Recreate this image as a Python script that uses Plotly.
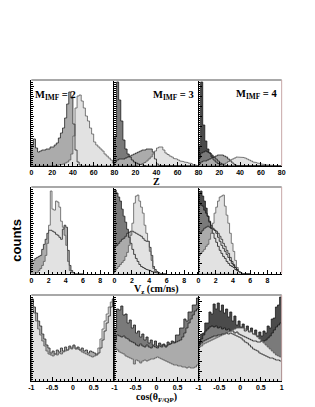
import numpy as np
import plotly.graph_objects as go

# ---------------- data ----------------
# Row 1: Z distributions, bins of width 2 from 0 to 80
z_edges = np.arange(0, 80.1, 2)
z_m2_medium = [21, 27, 18, 14, 15, 16, 16, 17, 17, 19, 19, 21, 23, 28, 33, 38, 48, 62, 74, 68,
               42, 16, 4, 1, 0, 0, 0, 0, 0, 0, 0, 0, 0, 0, 0, 0, 0, 0, 0, 0]
z_m2_light = [0, 0, 0, 0, 0, 0, 0, 0, 0, 0, 0, 0, 0.5, 1, 1.5, 2, 3, 4, 6, 12,
              30, 58, 70, 71, 65, 58, 50, 45, 38, 32, 24, 21, 19, 17, 15, 12, 10, 8, 6, 3]
z_m3_dark = [30, 84, 66, 45, 26, 17, 12, 9, 6, 4, 3, 2, 1.5, 1, 0.5, 0, 0, 0, 0, 0,
             0, 0, 0, 0, 0, 0, 0, 0, 0, 0, 0, 0, 0, 0, 0, 0, 0, 0, 0, 0]
z_m3_medium = [4, 6, 7, 7, 7, 8, 9, 10, 11, 12, 13, 14, 15, 16, 16, 17, 17, 17, 14, 7,
               2, 0.5, 0, 0, 0, 0, 0, 0, 0, 0, 0, 0, 0, 0, 0, 0, 0, 0, 0, 0]
z_m3_light = [0, 0, 0, 0, 0, 0, 0, 0, 0, 0, 0.5, 1, 1.5, 2.5, 3.5, 5, 7, 9, 12, 15,
              18, 19, 19, 16, 13, 11.5, 10, 9, 7.5, 7, 6, 5, 4.5, 4, 3.5, 3, 2.5, 1.5, 1, 0.5]
z_m4_darkest = [20, 84, 41, 25, 17, 13, 9, 6, 4, 2.5, 1.5, 1, 0, 0, 0, 0, 0, 0, 0, 0,
                0, 0, 0, 0, 0, 0, 0, 0, 0, 0, 0, 0, 0, 0, 0, 0, 0, 0, 0, 0]
z_m4_dark = [8, 13, 14, 15, 14, 13, 11, 9, 7, 5, 3, 2, 1, 0.5, 0, 0, 0, 0, 0, 0,
             0, 0, 0, 0, 0, 0, 0, 0, 0, 0, 0, 0, 0, 0, 0, 0, 0, 0, 0, 0]
z_m4_medium = [2, 4, 5, 5, 6, 7, 8, 9, 10, 11, 11, 11, 10, 9, 7, 5, 3, 1.5, 0.5, 0,
               0, 0, 0, 0, 0, 0, 0, 0, 0, 0, 0, 0, 0, 0, 0, 0, 0, 0, 0, 0]
z_m4_light = [0, 0, 0, 0, 0, 0, 0, 0, 0, 0, 0.5, 1, 2, 3, 4.5, 6, 7, 8, 9, 9,
              9, 8.5, 8, 7, 6, 5, 4, 3.5, 3, 2.5, 2, 1.5, 1.2, 1, 0.8, 0.6, 0.4, 0.3, 0.2, 0.1]

# Row 2: Vz distributions, bins of width 0.2 from 0 to 6
v_edges = np.round(np.arange(0, 6.01, 0.2), 2)
v_m2_medium = [13, 13, 15, 16, 17, 18, 24, 29, 34, 40, 43, 43, 42, 41, 39, 38, 36, 34, 44, 48,
               46, 23, 8, 3, 1, 0, 0, 0, 0, 0]
v_m2_light = [0, 0, 0, 1, 3, 5, 8, 12, 18, 30, 48, 82, 64, 63, 72, 71, 66, 52, 46, 38,
              28, 12, 3, 1, 0, 0, 0, 0, 0, 0]
v_m3_dark = [83, 80, 76, 72, 64, 57, 51, 44, 36, 30, 24, 19, 15, 12, 9, 7, 6, 5, 4, 3.5,
             3, 2, 1.5, 1, 0.5, 0, 0, 0, 0, 0]
v_m3_medium = [27, 28, 30, 32, 34, 35, 37, 40, 41, 42, 42, 41, 40, 39, 38, 37, 35, 33, 32, 32,
               26, 18, 7, 4, 2, 1, 0, 0, 0, 0]
v_m3_light = [3, 5, 7, 9, 11, 13, 17, 21, 28, 38, 50, 70, 77, 78, 72, 66, 60, 48, 40, 32,
              22, 13, 5, 2, 1, 0, 0, 0, 0, 0]
v_m4_darkest = [80, 82, 77, 72, 65, 57, 51, 45, 40, 35, 31, 27, 23, 20, 17, 15, 12, 10, 8, 7,
                6, 4, 3, 2, 1, 0, 0, 0, 0, 0]
v_m4_dark = [70, 68, 67, 63, 60, 57, 52, 48, 45, 43, 40, 36, 32, 28, 25, 22, 19, 16, 13, 10,
             8, 6, 4, 2, 1, 0, 0, 0, 0, 0]
v_m4_medium = [40, 41, 43, 45, 46, 47, 46, 45, 44, 43, 42, 40, 37, 34, 30, 27, 23, 20, 16, 12,
               9, 6, 4, 2, 1, 0, 0, 0, 0, 0]
v_m4_light = [18, 20, 22, 24, 27, 29, 34, 40, 50, 60, 66, 72, 76, 77, 78, 67, 58, 50, 40, 30,
              22, 13, 6, 2, 1, 0, 0, 0, 0, 0]

# Row 3: cos(theta_F/QP) distributions, bins of width 0.05 from -1 to 1
c_edges = np.round(np.arange(-1, 1.001, 0.05), 3)
c_m2_medium = [82, 74, 68, 60, 55, 47, 42, 36, 33, 28, 30, 27, 31, 29, 33, 30, 34, 31, 35, 33,
               36, 32, 34, 31, 33, 30, 31, 28, 30, 29, 28, 26, 28, 33, 41, 50, 58, 65, 74, 82]
c_m2_light = [80, 68, 60, 52, 46, 40, 35, 30, 27, 26, 25, 27, 26, 28, 27, 29, 30, 31, 33, 32,
              35, 33, 32, 31, 29, 28, 27, 26, 25, 24, 25, 27, 33, 42, 52, 60, 67, 74, 79, 82]
c_m3_dark = [52, 72, 71, 75, 66, 67, 58, 61, 53, 56, 48, 50, 44, 47, 41, 44, 38, 41, 36, 40,
             35, 38, 36, 37, 34, 39, 37, 40, 39, 46, 46, 53, 53, 62, 60, 69, 69, 76, 76, 83]
c_m3_medium = [41, 46, 45, 44, 45, 43, 42, 40, 39, 38, 36, 35, 37, 35, 34, 36, 34, 33, 35, 34,
               33, 35, 34, 36, 35, 36, 37, 38, 38, 39, 40, 41, 44, 48, 53, 58, 62, 66, 70, 72]
c_m3_light = [33, 31, 29, 28, 27, 25, 24, 23, 22, 17, 21, 20, 18, 20, 21, 20, 21, 22, 22, 23,
              24, 23, 22, 21, 20, 19, 18, 17, 16, 16, 15, 15, 14, 14, 13, 14, 13, 13, 14, 16]
c_m4_darkest = [40, 47, 48, 58, 58, 69, 67, 77, 72, 78, 70, 76, 68, 72, 64, 69, 60, 65, 56, 60,
                54, 57, 50, 55, 49, 53, 47, 51, 45, 49, 45, 50, 48, 55, 53, 62, 63, 74, 76, 84]
c_m4_dark = [38, 42, 46, 50, 52, 54, 55, 54, 55, 53, 54, 52, 53, 51, 52, 50, 50, 48, 49, 47,
             46, 45, 44, 43, 42, 41, 40, 40, 39, 39, 40, 40, 41, 43, 45, 48, 51, 54, 56, 58]
c_m4_medium = [36, 38, 40, 41, 42, 43, 44, 45, 45, 46, 46, 47, 47, 48, 47, 48, 47, 46, 45, 44,
               43, 41, 39, 38, 36, 34, 32, 31, 30, 28, 27, 26, 25, 24, 23, 23, 22, 21, 21, 20]
c_m4_light = [34, 35, 37, 38, 39, 40, 41, 42, 43, 44, 45, 46, 47, 48, 49, 50, 51, 52, 53, 53,
              53, 53, 52, 51, 50, 49, 47, 46, 44, 42, 40, 38, 36, 34, 32, 30, 28, 26, 25, 24]

multiplicity_labels = ["M<sub>IMF</sub> = 2", "M<sub>IMF</sub> = 3", "M<sub>IMF</sub> = 4"]
z_ticks = [0, 20, 40, 60, 80]
v_ticks = [0, 2, 4, 6, 8]
c_ticks = [-1, -0.5, 0, 0.5, 1]
c_tick_text = ["-1", "-0.5", "0", "0.5", "1"]

# ---------------- styling ----------------
W, H = 315, 407
COL_PX = [(29, 114), (114, 200), (200, 285)]
ROW_PX = [(80, 166), (187, 273.5), (295, 381)]
SHADE = {"darkest": "#4b4b4b", "dark": "#7a7a7a", "medium": "#ababab", "light": "#e2e2e2"}
EDGE = {"darkest": "#1a1a1a", "dark": "#1a1a1a", "medium": "#262626", "light": "#5a5a5a"}

rows = [
    (z_edges, [[("medium", z_m2_medium), ("light", z_m2_light)],
               [("dark", z_m3_dark), ("medium", z_m3_medium), ("light", z_m3_light)],
               [("darkest", z_m4_darkest), ("dark", z_m4_dark), ("medium", z_m4_medium), ("light", z_m4_light)]]),
    (v_edges, [[("medium", v_m2_medium), ("light", v_m2_light)],
               [("dark", v_m3_dark), ("medium", v_m3_medium), ("light", v_m3_light)],
               [("darkest", v_m4_darkest), ("dark", v_m4_dark), ("medium", v_m4_medium), ("light", v_m4_light)]]),
    (c_edges, [[("medium", c_m2_medium), ("light", c_m2_light)],
               [("dark", c_m3_dark), ("medium", c_m3_medium), ("light", c_m3_light)],
               [("darkest", c_m4_darkest), ("dark", c_m4_dark), ("medium", c_m4_medium), ("light", c_m4_light)]]),
]
x_ranges = [[0, 80], [0, 9.65], [-1, 1]]


def step(edges, vals):
    xs, ys = [edges[0]], [0]
    for i, v in enumerate(vals):
        xs += [edges[i], edges[i + 1]]
        ys += [v, v]
    xs.append(edges[len(vals)])
    ys.append(0)
    return xs, ys


fig = go.Figure()
layout = dict(width=W, height=H, margin=dict(l=0, r=0, t=0, b=0),
              paper_bgcolor="white", plot_bgcolor="white", showlegend=False,
              font=dict(family="Liberation Sans", color="black"))

tickfont = dict(family="Liberation Sans", size=7, color="black", weight="bold")
k = 0
for r, (edges, panels) in enumerate(rows):
    for c, series in enumerate(panels):
        k += 1
        xa = "x" if k == 1 else f"x{k}"
        ya = "y" if k == 1 else f"y{k}"
        # fills first
        for shade, vals in series:
            xs, ys = step(edges, vals)
            fig.add_trace(go.Scatter(x=xs, y=ys, mode="lines", fill="toself",
                                     fillcolor=SHADE[shade], line=dict(width=0),
                                     hoverinfo="skip", xaxis=xa, yaxis=ya))
        # outlines on top
        for shade, vals in series:
            xs, ys = step(edges, vals)
            fig.add_trace(go.Scatter(x=xs, y=ys, mode="lines",
                                     line=dict(width=0.8, color=EDGE[shade]),
                                     hoverinfo="skip", xaxis=xa, yaxis=ya))
        x0, x1 = COL_PX[c]
        y0, y1 = ROW_PX[r]
        if r == 0:
            tv = z_ticks if c == 0 else z_ticks[1:]
            tt = [str(t) for t in tv]
            dt_minor = 4
        elif r == 1:
            tv = v_ticks
            tt = [str(t) for t in tv]
            dt_minor = 0.5
        else:
            tv = c_ticks if c == 2 else c_ticks[:-1]
            tt = c_tick_text if c == 2 else c_tick_text[:-1]
            dt_minor = 0.1
        xkey = "xaxis" if k == 1 else f"xaxis{k}"
        ykey = "yaxis" if k == 1 else f"yaxis{k}"
        layout[xkey] = dict(domain=[x0 / W, x1 / W], anchor=ya, range=x_ranges[r],
                            showgrid=False, zeroline=False, showline=True,
                            linecolor="black", linewidth=1, ticks="inside", ticklen=4,
                            tickwidth=0.8, tickcolor="black",
                            tickvals=tv, ticktext=tt, tickfont=tickfont,
                            minor=dict(ticks="inside", ticklen=2, dtick=dt_minor,
                                       tickcolor="black", tickwidth=0.6),
                            fixedrange=True)
        layout[ykey] = dict(domain=[1 - y1 / H, 1 - y0 / H], anchor=xa, range=[0, 86],
                            showgrid=False, zeroline=False, showline=True,
                            linecolor="black", linewidth=1, ticks="inside", ticklen=3,
                            tickwidth=0.8, tickcolor="black", dtick=10,
                            showticklabels=False,
                            minor=dict(ticks="inside", ticklen=1.5, dtick=2,
                                       tickcolor="black", tickwidth=0.5),
                            fixedrange=True)

fig.update_layout(**layout)

shapes = []
for (y0, y1) in ROW_PX:
    shapes.append(dict(type="line", xref="paper", yref="paper",
                       x0=29 / W, x1=285 / W, y0=1 - y0 / H, y1=1 - y0 / H,
                       line=dict(color="#a8a8a8", width=2)))
    shapes.append(dict(type="line", xref="paper", yref="paper",
                       x0=285 / W, x1=285 / W, y0=1 - y0 / H, y1=1 - y1 / H,
                       line=dict(color="#c8a8a8", width=1)))
fig.update_layout(shapes=shapes)

ann = []
serif = dict(family="Liberation Serif", size=10.5, color="black", weight="bold")
ann.append(dict(text=multiplicity_labels[0], x=31 / W, y=1 - 96 / H, xref="paper", yref="paper",
                xanchor="left", yanchor="middle", showarrow=False, font=serif))
ann.append(dict(text=multiplicity_labels[1], x=197 / W, y=1 - 96 / H, xref="paper", yref="paper",
                xanchor="right", yanchor="middle", showarrow=False, font=serif))
ann.append(dict(text=multiplicity_labels[2], x=282 / W, y=1 - 94 / H, xref="paper", yref="paper",
                xanchor="right", yanchor="middle", showarrow=False, font=serif))
title_font = dict(family="Liberation Serif", size=10, color="black", weight="bold")
for txt, ypx in [("Z", 181.5), ("V<sub>z</sub> (cm/ns)", 289.5), ("cos(θ<sub>F/QP</sub>)", 397)]:
    ann.append(dict(text=txt, x=157 / W, y=1 - ypx / H, xref="paper", yref="paper",
                    xanchor="center", yanchor="middle", showarrow=False, font=title_font))
ann.append(dict(text="counts", x=13 / W, y=1 - 240 / H, xref="paper", yref="paper",
                xanchor="center", yanchor="middle", showarrow=False, textangle=-90,
                font=dict(family="Liberation Sans", size=13, color="black", weight="bold")))
fig.update_layout(annotations=ann)

fig.write_html("out.html", config={"displayModeBar": False},
               post_script="document.body.style.margin='0';document.body.style.padding='0';")
